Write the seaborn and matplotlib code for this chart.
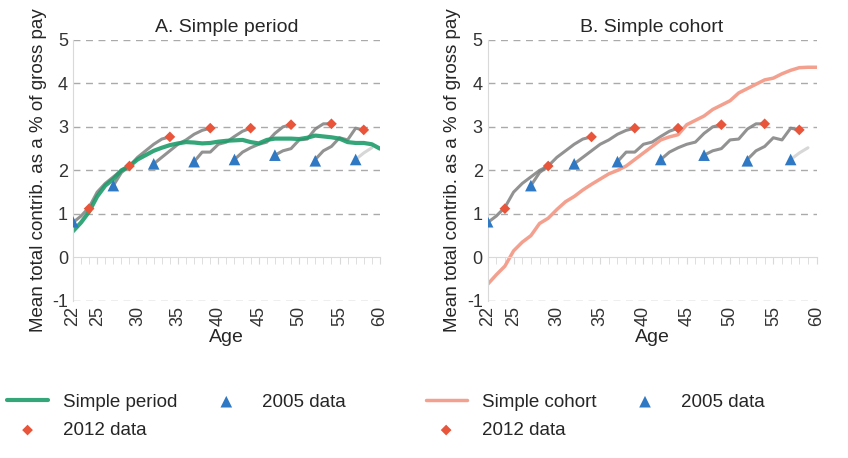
import matplotlib
matplotlib.use("Agg")
import matplotlib.pyplot as plt
import seaborn as sns
import pandas as pd
import numpy as np

sns.set_style("white")
plt.rcParams['font.family'] = ['Liberation Sans', 'DejaVu Sans']
plt.rcParams['axes.unicode_minus'] = False

ages = list(range(22, 61))
period = [0.6,0.8,1.05,1.4,1.65,1.8,2.0,2.1,2.25,2.35,2.45,2.52,2.58,2.62,2.65,2.64,2.62,2.63,2.66,2.68,
          2.69,2.7,2.65,2.62,2.7,2.73,2.73,2.73,2.72,2.75,2.8,2.78,2.76,2.73,2.65,2.63,2.63,2.6,2.5]
cohort = [-0.62,-0.4,-0.2,0.15,0.35,0.5,0.78,0.9,1.1,1.28,1.4,1.55,1.68,1.8,1.92,2.0,2.1,2.25,2.4,2.55,
          2.7,2.77,2.82,3.05,3.15,3.25,3.4,3.5,3.6,3.78,3.88,3.98,4.08,4.12,4.22,4.3,4.36,4.37,4.37]
ages05 = [22,27,32,37,42,47,52,57]
data05 = [0.82,1.65,2.15,2.2,2.25,2.35,2.22,2.25]
ages12 = [24,29,34,39,44,49,54,58]
data12 = [1.12,2.1,2.77,2.97,2.97,3.05,3.07,2.93]
seg_start = [22,27,32,37,42,47,52,57]
seg_vals = [
    [0.8,0.95,1.15,1.5,1.7,1.85,2.0,2.1],
    [1.65,1.95,2.1,2.3,2.45,2.6,2.72,2.77],
    [2.15,2.3,2.45,2.6,2.7,2.83,2.92,2.97],
    [2.2,2.42,2.42,2.6,2.65,2.78,2.9,2.97],
    [2.25,2.42,2.52,2.6,2.65,2.85,3.0,3.05],
    [2.35,2.45,2.5,2.7,2.72,2.95,3.07,3.07],
    [2.25,2.45,2.55,2.75,2.7,2.97,2.93],
    [2.25,2.4,2.52],
]

fig = plt.figure(figsize=(8.48,4.58), dpi=100)
axL = fig.add_axes([0.086,0.343,0.362,0.57])
axR = fig.add_axes([0.575,0.343,0.388,0.57])

def setup(ax, title):
    ax.set_xlim(22,60); ax.set_ylim(-1,5)
    ax.set_yticks(range(-1,6))
    for y in range(1,6):
        ax.axhline(y, color='#aaaaaa', ls=(0,(5,4)), lw=1, zorder=0)
    ax.axhline(-1, color='#aaaaaa', ls=(0,(5,4)), lw=1, zorder=0)
    for s in ['top','right']:
        ax.spines[s].set_visible(False)
    ax.spines['left'].set_color('#d9d9d9')
    ax.spines['bottom'].set_position(('data',0))
    ax.spines['bottom'].set_color('#d9d9d9')
    ax.set_xticks(range(22,61), minor=True)
    ax.set_xticks([22,25,30,35,40,45,50,55,60])
    ax.tick_params(axis='x', which='both', direction='out', length=5, color='#d9d9d9', bottom=True, labelbottom=False)
    ax.tick_params(axis='y', length=0, labelsize=13, colors='#333333')
    ax.set_xlabel('')
    sec = ax.secondary_xaxis(0)
    sec.set_xticks([22,25,30,35,40,45,50,55,60])
    sec.tick_params(length=0, labelsize=13, labelrotation=90, colors='#333333')
    sec.spines['bottom'].set_visible(False)
    sec.set_xlabel('Age', fontsize=14, labelpad=2)
    ax.set_ylabel('Mean total contrib. as a % of gross pay', fontsize=13.5)
    ax.set_title(title, fontsize=14)

def segs(ax):
    for i,(s,v) in enumerate(zip(seg_start, seg_vals)):
        df = pd.DataFrame({'a': list(range(s, s+len(v))), 'v': v})
        sns.lineplot(data=df, x='a', y='v', ax=ax, color='#d0d0d0' if i==7 else '#7f7f7f', lw=2.2, alpha=0.85, legend=False)

segs(axL)
sns.lineplot(x=ages, y=period, ax=axL, color='#1f9d6b', lw=3, label='Simple period', alpha=0.9)
sns.scatterplot(x=ages05, y=data05, ax=axL, marker='^', color='#2f78c4', s=70, label='2005 data', zorder=5, edgecolor='none')
sns.scatterplot(x=ages12, y=data12, ax=axL, marker='D', color='#e8553a', s=30, label='2012 data', zorder=5, edgecolor='none')
setup(axL, 'A. Simple period')

segs(axR)
sns.lineplot(x=ages, y=cohort, ax=axR, color='#f4a08f', lw=2.5, label='Simple cohort')
sns.scatterplot(x=ages05, y=data05, ax=axR, marker='^', color='#2f78c4', s=70, label='2005 data', zorder=5, edgecolor='none')
sns.scatterplot(x=ages12, y=data12, ax=axR, marker='D', color='#e8553a', s=30, label='2012 data', zorder=5, edgecolor='none')
setup(axR, 'B. Simple cohort')

for ax, x0 in [(axL, -0.27), (axR, -0.24)]:
    h, l = ax.get_legend_handles_labels()
    order = [0, 2, 1]
    ax.legend([h[i] for i in order], [l[i] for i in order], ncol=2, loc='upper left',
              bbox_to_anchor=(x0, -0.29), frameon=False, fontsize=13.5,
              columnspacing=1.5, handlelength=2.2, labelspacing=0.6)

fig.savefig('out.png', dpi=100)
